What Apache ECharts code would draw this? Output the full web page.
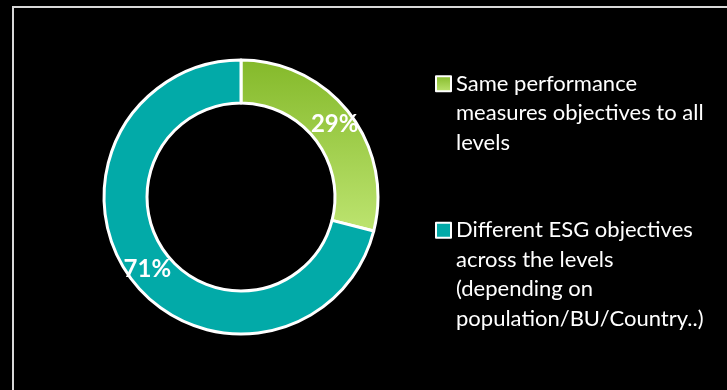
<!DOCTYPE html>
<html>
<head>
<meta charset="utf-8">
<script src="https://cdn.jsdelivr.net/npm/echarts@6/dist/echarts.min.js"></script>
<style>
html,body{margin:0;padding:0;background:#000;}
#chart{width:727px;height:390px;}
</style>
</head>
<body>
<div id="chart"></div>
<script>
const categories = [
  'Same performance\nmeasures objectives to all\nlevels',
  'Different ESG objectives\nacross the levels\n(depending on\npopulation/BU/Country..)'
];
const values = [29, 71];
const sliceColors = [
  {type: 'linear', x: 0, y: 0, x2: 0, y2: 1, colorStops: [{offset: 0, color: '#84b92a'}, {offset: 1, color: '#bde470'}]},
  '#02aaa8'
];

const chart = echarts.init(document.getElementById('chart'), null, {renderer: 'canvas'});
const LH = 29.5;
const legendBase = {
  orient: 'vertical',
  left: 430,
  icon: 'rect',
  itemWidth: 15,
  itemHeight: 15,
  selectedMode: false,
  itemStyle: {borderColor: '#ffffff', borderWidth: 2},
  textStyle: {color: '#ffffff', fontFamily: 'Lato', fontSize: 22, lineHeight: LH}
};
function topAligned(name) {
  // pad with leading empty lines so the first text line sits beside the icon
  const n = name.split('\n').length;
  return '\n'.repeat(n - 1) + name;
}
chart.setOption({
  animation: false,
  backgroundColor: '#000000',
  graphic: [{
    type: 'rect',
    shape: {x: 13, y: 7, width: 900, height: 600},
    style: {fill: 'none', stroke: '#d8d8d8', lineWidth: 2}
  }],
  legend: [
    Object.assign({}, legendBase, {top: 5, data: [categories[0]], formatter: topAligned}),
    Object.assign({}, legendBase, {top: 122, data: [categories[1]], formatter: topAligned})
  ],
  series: [{
    type: 'pie',
    center: [241, 197],
    radius: [94, 137],
    startAngle: 90,
    clockwise: true,
    silent: true,
    itemStyle: {borderColor: '#ffffff', borderWidth: 3},
    label: {
      show: true,
      position: 'inside',
      formatter: '{c}%',
      color: '#ffffff',
      fontFamily: 'Lato',
      fontWeight: 'bold',
      fontSize: 24
    },
    labelLine: {show: false},
    data: categories.map((c, i) => ({name: c, value: values[i], itemStyle: {color: sliceColors[i]}}))
  }]
});
</script>
</body>
</html>
